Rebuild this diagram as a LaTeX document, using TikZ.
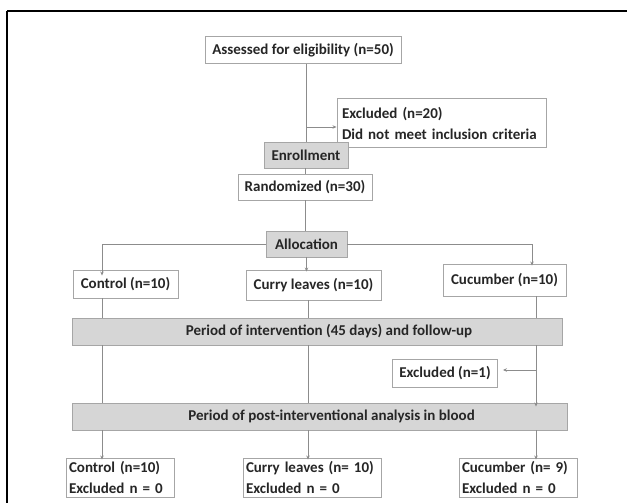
\documentclass[tikz,border=0pt]{standalone}
\usepackage{fontspec}
\setmainfont{Carlito}
\usetikzlibrary{arrows.meta}
\definecolor{lnc}{HTML}{8C8C8C}
\definecolor{bxc}{HTML}{A6A6A6}
\definecolor{gfill}{HTML}{D6D6D6}
\tikzset{
  box/.style={draw=bxc, line width=0.9pt, fill=white, inner sep=2pt, font=\fontsize{15}{21}\selectfont\bfseries, text=black!85},
  gbox/.style={box, fill=gfill},
  ln/.style={draw=lnc, line width=0.8pt},
  arr/.style={ln, -{Stealth[length=4pt,width=3.5pt]}},
}
\begin{document}
\begin{tikzpicture}[x=1pt,y=-1pt]
\useasboundingbox (0,0) rectangle (627,503);
\draw[line width=2pt] (7,11) -- (628,11);
\draw[line width=2pt] (7,11) -- (7,504);
% columns
\coordinate (cA) at (102,0);
\coordinate (cB) at (308,0);
\coordinate (cC) at (536,0);
% nodes
\node[box, minimum width=196pt, minimum height=27pt] (assess) at (303,50) {Assessed for eligibility (n=50)};
\node[box, minimum width=209pt, minimum height=49pt, align=left, text width=199pt] (excl) at (441.5,123) {Excluded (n=20)\\Did not meet inclusion criteria};
\node[gbox, minimum width=84pt, minimum height=26pt] (enroll) at (306,155) {Enrollment};
\node[box, minimum width=134pt, minimum height=26pt] (rand) at (305,187) {Randomized (n=30)};
\node[gbox, minimum width=81pt, minimum height=26pt] (alloc) at (306.5,244) {Allocation};
\node[box, minimum width=105pt, minimum height=28pt] (ctrl) at (125.5,284) {Control (n=10)};
\node[box, minimum width=135pt, minimum height=30pt] (curry) at (313.5,285) {Curry leaves (n=10)};
\node[box, minimum width=123pt, minimum height=32pt] (cuc) at (504.5,280) {Cucumber (n=10)};
\node[gbox, minimum width=490pt, minimum height=27pt] (interv) at (317,331.5) {\hspace*{24pt}Period of intervention (45 days) and follow-up};
\node[box, minimum width=105pt, minimum height=28pt] (excl1) at (445,373) {Excluded (n=1)};
\node[gbox, minimum width=495pt, minimum height=27pt] (post) at (319.5,416.5) {\hspace*{24pt}Period of post-interventional analysis in blood};
\node[box, minimum width=108pt, minimum height=39pt, align=left, text width=102pt] (ctrl2) at (120,477.5) {Control (n=10)\\Excluded n = 0};
\node[box, minimum width=138pt, minimum height=39pt, align=left, text width=132pt] (curry2) at (312,477.5) {Curry leaves (n= 10)\\Excluded n = 0};
\node[box, minimum width=118pt, minimum height=39pt, align=left, text width=112pt] (cuc2) at (518,477.5) {Cucumber (n= 9)\\Excluded n = 0};
% connectors
\draw[ln] (assess.south -| enroll.north) -- (enroll.north);
\coordinate (j1) at (306,127);
\draw[arr] (j1) -- (j1 -| excl.west);
\draw[ln] (enroll.south -| rand.north) -- (rand.north);
\draw[ln] (rand.south) -- (rand.south |- alloc.north);
\draw[arr] (alloc.west) -- (alloc.west -| cA) -- ([yshift=-6pt]cA |- ctrl.north);
\draw[arr] (alloc.east) -- (alloc.east -| 532,0) -- ([yshift=-2pt]532,0 |- cuc.north);
\draw[arr] (alloc.south) -- ([yshift=-2pt]alloc.south |- curry.north);
\draw[ln] (cA |- ctrl.south) -- (cA |- interv.north);
\draw[ln] (cB |- curry.south) -- (cB |- interv.north);
\draw[ln] (cC |- cuc.south) -- (cC |- interv.north);
\draw[ln] (cA |- interv.south) -- (cA |- post.north);
\draw[ln] (cB |- interv.south) -- (cB |- post.north);
\draw[arr] (cC |- interv.south) -- ([yshift=-4pt]cC |- post.north);
\coordinate (j2) at (536,370);
\draw[arr] (j2) -- ([xshift=5pt]j2 -| excl1.east);
\draw[arr] (cA |- post.south) -- ([yshift=-2pt]cA |- ctrl2.north);
\draw[arr] (cB |- post.south) -- ([yshift=-2pt]cB |- curry2.north);
\draw[arr] (cC |- post.south) -- ([yshift=-2pt]cC |- cuc2.north);
\end{tikzpicture}
\end{document}
